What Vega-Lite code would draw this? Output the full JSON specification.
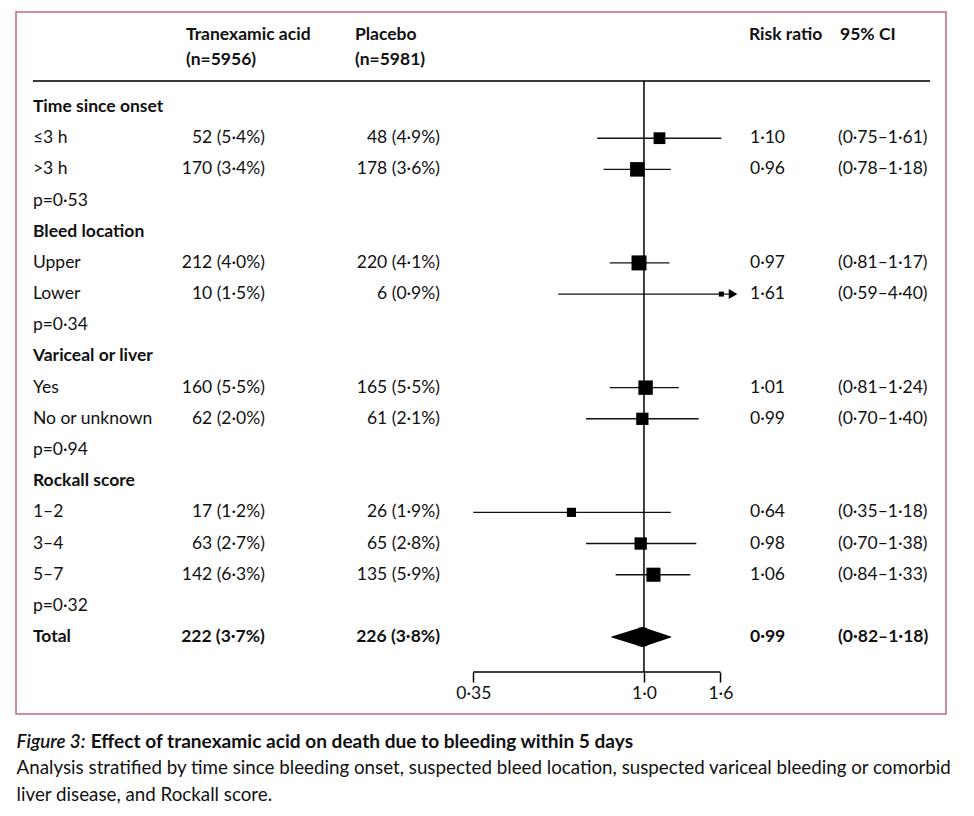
{
  "$schema": "https://vega.github.io/schema/vega-lite/v6.json",
  "width": 930,
  "height": 702,
  "autosize": {"type": "none"},
  "padding": {"left": 16, "top": 12, "right": 28, "bottom": 102},
  "background": "white",
  "config": {
    "view": {"stroke": "#c2668a", "strokeWidth": 1.5},
    "text": {"font": "Lato", "fontSize": 17.5, "color": "#111111", "baseline": "middle"}
  },
  "resolve": {"scale": {"size": "independent"}, "axis": {"x": "independent", "y": "independent"}},
  "datasets": {
    "rows": [
      {"i": 0, "type": "group", "label": "Time since onset"},
      {"i": 1, "type": "item", "label": "≤3 h", "tx": "52 (5·4%)", "pl": "48 (4·9%)", "rr_t": "1·10", "ci_t": "(0·75–1·61)", "rr": 1.10, "lo": 0.75, "hi": 1.61, "hi_clip": 1.61, "w": 26.3},
      {"i": 2, "type": "item", "label": ">3 h", "tx": "170 (3·4%)", "pl": "178 (3·6%)", "rr_t": "0·96", "ci_t": "(0·78–1·18)", "rr": 0.96, "lo": 0.78, "hi": 1.18, "hi_clip": 1.18, "w": 89.7},
      {"i": 3, "type": "p", "label": "p=0·53"},
      {"i": 4, "type": "group", "label": "Bleed location"},
      {"i": 5, "type": "item", "label": "Upper", "tx": "212 (4·0%)", "pl": "220 (4·1%)", "rr_t": "0·97", "ci_t": "(0·81–1·17)", "rr": 0.97, "lo": 0.81, "hi": 1.17, "hi_clip": 1.17, "w": 113.6},
      {"i": 6, "type": "item", "label": "Lower", "tx": "10 (1·5%)", "pl": "6 (0·9%)", "rr_t": "1·61", "ci_t": "(0·59–4·40)", "rr": 1.61, "lo": 0.59, "hi": 4.40, "hi_clip": 1.73, "arrow": true, "w": 3.8},
      {"i": 7, "type": "p", "label": "p=0·34"},
      {"i": 8, "type": "group", "label": "Variceal or liver"},
      {"i": 9, "type": "item", "label": "Yes", "tx": "160 (5·5%)", "pl": "165 (5·5%)", "rr_t": "1·01", "ci_t": "(0·81–1·24)", "rr": 1.01, "lo": 0.81, "hi": 1.24, "hi_clip": 1.24, "w": 84.6},
      {"i": 10, "type": "item", "label": "No or unknown", "tx": "62 (2·0%)", "pl": "61 (2·1%)", "rr_t": "0·99", "ci_t": "(0·70–1·40)", "rr": 0.99, "lo": 0.70, "hi": 1.40, "hi_clip": 1.40, "w": 32.0},
      {"i": 11, "type": "p", "label": "p=0·94"},
      {"i": 12, "type": "group", "label": "Rockall score"},
      {"i": 13, "type": "item", "label": "1–2", "tx": "17 (1·2%)", "pl": "26 (1·9%)", "rr_t": "0·64", "ci_t": "(0·35–1·18)", "rr": 0.64, "lo": 0.35, "hi": 1.18, "hi_clip": 1.18, "w": 10.4},
      {"i": 14, "type": "item", "label": "3–4", "tx": "63 (2·7%)", "pl": "65 (2·8%)", "rr_t": "0·98", "ci_t": "(0·70–1·38)", "rr": 0.98, "lo": 0.70, "hi": 1.38, "hi_clip": 1.38, "w": 33.3},
      {"i": 15, "type": "item", "label": "5–7", "tx": "142 (6·3%)", "pl": "135 (5·9%)", "rr_t": "1·06", "ci_t": "(0·84–1·33)", "rr": 1.06, "lo": 0.84, "hi": 1.33, "hi_clip": 1.33, "w": 72.8},
      {"i": 16, "type": "p", "label": "p=0·32"},
      {"i": 17, "type": "total", "label": "Total", "tx": "222 (3·7%)", "pl": "226 (3·8%)", "rr_t": "0·99", "ci_t": "(0·82–1·18)", "rr": 0.99, "lo": 0.82, "hi": 1.18}
    ]
  },
  "layer": [
    {
      "data": {"values": [{}]},
      "mark": {"type": "rule", "color": "#3a3a3a", "strokeWidth": 2},
      "encoding": {
        "x": {"datum": 0.02328, "type": "quantitative", "scale": {"type": "log", "domain": [0.02098, 6.414], "nice": false}, "axis": null},
        "x2": {"datum": 5.813},
        "y": {"datum": -0.834, "type": "quantitative", "scale": {"domain": [-3.047, 19.467], "reverse": true, "nice": false, "zero": false}, "axis": null}
      }
    },
    {
      "data": {"values": [{}]},
      "mark": {"type": "rule", "color": "#000000", "strokeWidth": 1.5},
      "encoding": {
        "x": {"datum": 1, "type": "quantitative", "scale": {"type": "log", "domain": [0.02098, 6.414], "nice": false}, "axis": null},
        "y": {"datum": -0.834, "type": "quantitative", "scale": {"domain": [-3.047, 19.467], "reverse": true, "nice": false, "zero": false}, "axis": null},
        "y2": {"datum": 18.12}
      }
    },
    {
      "data": {"values": [{}]},
      "mark": {"type": "rule", "color": "#000000", "strokeWidth": 1.5},
      "encoding": {
        "x": {"datum": 0.35, "type": "quantitative", "scale": {"type": "log", "domain": [0.02098, 6.414], "nice": false}, "axis": null},
        "x2": {"datum": 1.6},
        "y": {"datum": 18.12, "type": "quantitative", "scale": {"domain": [-3.047, 19.467], "reverse": true, "nice": false, "zero": false}, "axis": null}
      }
    },
    {
      "data": {"name": "rows"},
      "transform": [{"filter": "datum.type === 'item'"}],
      "mark": {"type": "rule", "color": "#111111", "strokeWidth": 1.4},
      "encoding": {
        "x": {
          "field": "lo", "type": "quantitative",
          "scale": {"type": "log", "domain": [0.02098, 6.414], "nice": false},
          "axis": {
            "orient": "bottom",
            "values": [0.35, 1, 1.6],
            "labelExpr": "datum.value < 0.5 ? '0·35' : datum.value < 1.2 ? '1·0' : '1·6'",
            "domain": false, "grid": false, "title": null,
            "ticks": true, "tickSize": 10, "tickWidth": 1.5, "tickColor": "#000000",
            "labelFont": "Lato", "labelFontSize": 17.5, "labelColor": "#111111",
            "labelPadding": 2, "labelFlush": false, "labelOverlap": false, "offset": -42
          }
        },
        "x2": {"field": "hi_clip"},
        "y": {"field": "i", "type": "quantitative", "scale": {"domain": [-3.047, 19.467], "reverse": true, "nice": false, "zero": false}, "axis": null}
      }
    },
    {
      "data": {"name": "rows"},
      "transform": [{"filter": "datum.type === 'item'"}],
      "mark": {"type": "point", "shape": "square", "filled": true, "color": "#000000", "opacity": 1},
      "encoding": {
        "x": {"field": "rr", "type": "quantitative", "scale": {"type": "log", "domain": [0.02098, 6.414], "nice": false}, "axis": null},
        "y": {"field": "i", "type": "quantitative", "scale": {"domain": [-3.047, 19.467], "reverse": true, "nice": false, "zero": false}, "axis": null},
        "size": {"field": "w", "type": "quantitative", "scale": {"type": "log", "domain": [3.8, 114], "range": [25, 225]}, "legend": null}
      }
    },
    {
      "data": {"name": "rows"},
      "transform": [{"filter": "datum.arrow === true"}],
      "mark": {"type": "point", "shape": "triangle-right", "filled": true, "color": "#000000", "opacity": 1, "size": 100},
      "encoding": {
        "x": {"field": "hi_clip", "type": "quantitative", "scale": {"type": "log", "domain": [0.02098, 6.414], "nice": false}, "axis": null},
        "y": {"field": "i", "type": "quantitative", "scale": {"domain": [-3.047, 19.467], "reverse": true, "nice": false, "zero": false}, "axis": null}
      }
    },
    {
      "data": {"name": "rows"},
      "transform": [{"filter": "datum.type === 'total'"}, {"fold": ["lo", "rr", "hi"], "as": ["k", "v"]}],
      "mark": {"type": "trail", "color": "#000000"},
      "encoding": {
        "x": {"field": "v", "type": "quantitative", "scale": {"type": "log", "domain": [0.02098, 6.414], "nice": false}, "axis": null},
        "y": {"field": "i", "type": "quantitative", "scale": {"domain": [-3.047, 19.467], "reverse": true, "nice": false, "zero": false}, "axis": null},
        "size": {"field": "k", "type": "nominal", "scale": {"type": "ordinal", "domain": ["lo", "rr", "hi"], "range": [0, 20, 0]}, "legend": null}
      }
    },
    {
      "data": {"name": "rows"},
      "transform": [{"filter": "datum.type === 'item' || datum.type === 'p'"}],
      "mark": {"type": "text", "align": "left"},
      "encoding": {
        "x": {"datum": 0.02328, "type": "quantitative", "scale": {"type": "log", "domain": [0.02098, 6.414], "nice": false}, "axis": null},
        "y": {"field": "i", "type": "quantitative", "scale": {"domain": [-3.047, 19.467], "reverse": true, "nice": false, "zero": false}, "axis": null},
        "text": {"field": "label"}
      }
    },
    {
      "data": {"name": "rows"},
      "transform": [{"filter": "datum.type === 'group' || datum.type === 'total'"}],
      "mark": {"type": "text", "align": "left", "fontWeight": "bold"},
      "encoding": {
        "x": {"datum": 0.02328, "type": "quantitative", "scale": {"type": "log", "domain": [0.02098, 6.414], "nice": false}, "axis": null},
        "y": {"field": "i", "type": "quantitative", "scale": {"domain": [-3.047, 19.467], "reverse": true, "nice": false, "zero": false}, "axis": null},
        "text": {"field": "label"}
      }
    },
    {
      "data": {"name": "rows"},
      "transform": [{"filter": "datum.type === 'item'"}],
      "mark": {"type": "text", "align": "right"},
      "encoding": {
        "x": {"datum": 0.09706, "type": "quantitative", "scale": {"type": "log", "domain": [0.02098, 6.414], "nice": false}, "axis": null},
        "y": {"field": "i", "type": "quantitative", "scale": {"domain": [-3.047, 19.467], "reverse": true, "nice": false, "zero": false}, "axis": null},
        "text": {"field": "tx"}
      }
    },
    {
      "data": {"name": "rows"},
      "transform": [{"filter": "datum.type === 'total'"}],
      "mark": {"type": "text", "align": "right", "fontWeight": "bold"},
      "encoding": {
        "x": {"datum": 0.09706, "type": "quantitative", "scale": {"type": "log", "domain": [0.02098, 6.414], "nice": false}, "axis": null},
        "y": {"field": "i", "type": "quantitative", "scale": {"domain": [-3.047, 19.467], "reverse": true, "nice": false, "zero": false}, "axis": null},
        "text": {"field": "tx"}
      }
    },
    {
      "data": {"name": "rows"},
      "transform": [{"filter": "datum.type === 'item'"}],
      "mark": {"type": "text", "align": "right"},
      "encoding": {
        "x": {"datum": 0.2850, "type": "quantitative", "scale": {"type": "log", "domain": [0.02098, 6.414], "nice": false}, "axis": null},
        "y": {"field": "i", "type": "quantitative", "scale": {"domain": [-3.047, 19.467], "reverse": true, "nice": false, "zero": false}, "axis": null},
        "text": {"field": "pl"}
      }
    },
    {
      "data": {"name": "rows"},
      "transform": [{"filter": "datum.type === 'total'"}],
      "mark": {"type": "text", "align": "right", "fontWeight": "bold"},
      "encoding": {
        "x": {"datum": 0.2850, "type": "quantitative", "scale": {"type": "log", "domain": [0.02098, 6.414], "nice": false}, "axis": null},
        "y": {"field": "i", "type": "quantitative", "scale": {"domain": [-3.047, 19.467], "reverse": true, "nice": false, "zero": false}, "axis": null},
        "text": {"field": "pl"}
      }
    },
    {
      "data": {"name": "rows"},
      "transform": [{"filter": "datum.type === 'item'"}],
      "mark": {"type": "text", "align": "left"},
      "encoding": {
        "x": {"datum": 1.920, "type": "quantitative", "scale": {"type": "log", "domain": [0.02098, 6.414], "nice": false}, "axis": null},
        "y": {"field": "i", "type": "quantitative", "scale": {"domain": [-3.047, 19.467], "reverse": true, "nice": false, "zero": false}, "axis": null},
        "text": {"field": "rr_t"}
      }
    },
    {
      "data": {"name": "rows"},
      "transform": [{"filter": "datum.type === 'total'"}],
      "mark": {"type": "text", "align": "left", "fontWeight": "bold"},
      "encoding": {
        "x": {"datum": 1.920, "type": "quantitative", "scale": {"type": "log", "domain": [0.02098, 6.414], "nice": false}, "axis": null},
        "y": {"field": "i", "type": "quantitative", "scale": {"domain": [-3.047, 19.467], "reverse": true, "nice": false, "zero": false}, "axis": null},
        "text": {"field": "rr_t"}
      }
    },
    {
      "data": {"name": "rows"},
      "transform": [{"filter": "datum.type === 'item'"}],
      "mark": {"type": "text", "align": "left"},
      "encoding": {
        "x": {"datum": 3.300, "type": "quantitative", "scale": {"type": "log", "domain": [0.02098, 6.414], "nice": false}, "axis": null},
        "y": {"field": "i", "type": "quantitative", "scale": {"domain": [-3.047, 19.467], "reverse": true, "nice": false, "zero": false}, "axis": null},
        "text": {"field": "ci_t"}
      }
    },
    {
      "data": {"name": "rows"},
      "transform": [{"filter": "datum.type === 'total'"}],
      "mark": {"type": "text", "align": "left", "fontWeight": "bold"},
      "encoding": {
        "x": {"datum": 3.300, "type": "quantitative", "scale": {"type": "log", "domain": [0.02098, 6.414], "nice": false}, "axis": null},
        "y": {"field": "i", "type": "quantitative", "scale": {"domain": [-3.047, 19.467], "reverse": true, "nice": false, "zero": false}, "axis": null},
        "text": {"field": "ci_t"}
      }
    },
    {
      "data": {"values": [{}]},
      "mark": {"type": "text", "align": "left", "fontWeight": "bold", "lineHeight": 25},
      "encoding": {
        "x": {"datum": 0.0597, "type": "quantitative", "scale": {"type": "log", "domain": [0.02098, 6.414], "nice": false}, "axis": null},
        "y": {"datum": -2.309, "type": "quantitative", "scale": {"domain": [-3.047, 19.467], "reverse": true, "nice": false, "zero": false}, "axis": null},
        "text": {"value": ["Tranexamic acid", "(n=5956)"]}
      }
    },
    {
      "data": {"values": [{}]},
      "mark": {"type": "text", "align": "left", "fontWeight": "bold", "lineHeight": 25},
      "encoding": {
        "x": {"datum": 0.1689, "type": "quantitative", "scale": {"type": "log", "domain": [0.02098, 6.414], "nice": false}, "axis": null},
        "y": {"datum": -2.309, "type": "quantitative", "scale": {"domain": [-3.047, 19.467], "reverse": true, "nice": false, "zero": false}, "axis": null},
        "text": {"value": ["Placebo", "(n=5981)"]}
      }
    },
    {
      "data": {"values": [{}]},
      "mark": {"type": "text", "align": "left", "fontWeight": "bold"},
      "encoding": {
        "x": {"datum": 1.908, "type": "quantitative", "scale": {"type": "log", "domain": [0.02098, 6.414], "nice": false}, "axis": null},
        "y": {"datum": -2.309, "type": "quantitative", "scale": {"domain": [-3.047, 19.467], "reverse": true, "nice": false, "zero": false}, "axis": null},
        "text": {"value": "Risk ratio"}
      }
    },
    {
      "data": {"values": [{}]},
      "mark": {"type": "text", "align": "left", "fontWeight": "bold"},
      "encoding": {
        "x": {"datum": 3.341, "type": "quantitative", "scale": {"type": "log", "domain": [0.02098, 6.414], "nice": false}, "axis": null},
        "y": {"datum": -2.309, "type": "quantitative", "scale": {"domain": [-3.047, 19.467], "reverse": true, "nice": false, "zero": false}, "axis": null},
        "text": {"value": "95% CI"}
      }
    },
    {
      "data": {"values": [{}]},
      "mark": {"type": "text", "align": "left", "fontStyle": "italic", "fontWeight": 600, "fontSize": 18.8},
      "encoding": {
        "x": {"datum": 0.02106, "type": "quantitative", "scale": {"type": "log", "domain": [0.02098, 6.414], "nice": false}, "axis": null},
        "y": {"datum": 20.37, "type": "quantitative", "scale": {"domain": [-3.047, 19.467], "reverse": true, "nice": false, "zero": false}, "axis": null},
        "text": {"value": "Figure 3:"}
      }
    },
    {
      "data": {"values": [{}]},
      "mark": {"type": "text", "align": "left", "fontWeight": "bold", "fontSize": 19.1},
      "encoding": {
        "x": {"datum": 0.03321, "type": "quantitative", "scale": {"type": "log", "domain": [0.02098, 6.414], "nice": false}, "axis": null},
        "y": {"datum": 20.37, "type": "quantitative", "scale": {"domain": [-3.047, 19.467], "reverse": true, "nice": false, "zero": false}, "axis": null},
        "text": {"value": "Effect of tranexamic acid on death due to bleeding within 5 days"}
      }
    },
    {
      "data": {"values": [{}]},
      "mark": {"type": "text", "align": "left", "fontSize": 18.75},
      "encoding": {
        "x": {"datum": 0.02106, "type": "quantitative", "scale": {"type": "log", "domain": [0.02098, 6.414], "nice": false}, "axis": null},
        "y": {"datum": 21.20, "type": "quantitative", "scale": {"domain": [-3.047, 19.467], "reverse": true, "nice": false, "zero": false}, "axis": null},
        "text": {"value": "Analysis stratified by time since bleeding onset, suspected bleed location, suspected variceal bleeding or comorbid"}
      }
    },
    {
      "data": {"values": [{}]},
      "mark": {"type": "text", "align": "left", "fontSize": 18.75},
      "encoding": {
        "x": {"datum": 0.02106, "type": "quantitative", "scale": {"type": "log", "domain": [0.02098, 6.414], "nice": false}, "axis": null},
        "y": {"datum": 22.07, "type": "quantitative", "scale": {"domain": [-3.047, 19.467], "reverse": true, "nice": false, "zero": false}, "axis": null},
        "text": {"value": "liver disease, and Rockall score."}
      }
    }
  ]
}
